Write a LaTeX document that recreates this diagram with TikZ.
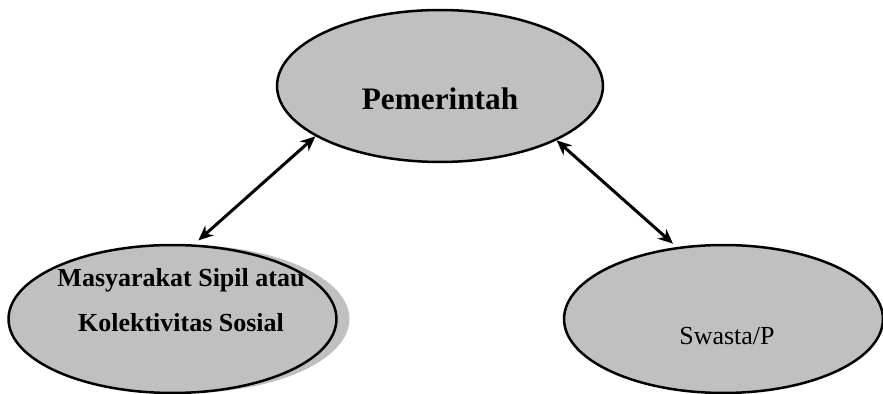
\documentclass[tikz,border=0pt]{standalone}
\usepackage{fontspec}
\setmainfont{Liberation Serif}
\usetikzlibrary{arrows.meta,shapes.geometric,shadows}
\definecolor{silver}{RGB}{192,192,192}
\tikzset{
  oval/.style={ellipse,draw=black,line width=0.05cm,fill=silver},
  link/.style={<->,>={Stealth[length=0.3cm,width=0.26cm]},line width=0.06cm}
}

\begin{document}
\begin{tikzpicture}[x=0.02cm,y=-0.02cm]
\useasboundingbox (0,0) rectangle (883,394);
\node[oval,minimum width=6.52cm,minimum height=3.04cm] (Pem) at (440,86) {};
\node[oval,minimum width=6.56cm,minimum height=2.96cm,drop shadow={shadow xshift=0.26cm,shadow yshift=0cm,fill=silver,opacity=1}] (Masy) at (172.5,319) {};
\node[oval,minimum width=6.38cm,minimum height=2.96cm] (Swa) at (723.5,319) {};
\node[font=\fontsize{17.8}{20}\selectfont\bfseries] (PemT) at (440,99) {Pemerintah};
\node[font=\fontsize{14.8}{25.5}\selectfont\bfseries,align=center] (MasyT) at (181,300) {Masyarakat Sipil atau\\Kolektivitas Sosial};
\node[font=\fontsize{14.8}{17}\selectfont] (SwaT) at (727,336) {Swasta/P};
\draw[link,shorten <=0.12cm] (Masy.74) -- (Pem.202);
\draw[link,shorten >=0.1cm] (Pem.335) -- (Swa.123);
\end{tikzpicture}
\end{document}
